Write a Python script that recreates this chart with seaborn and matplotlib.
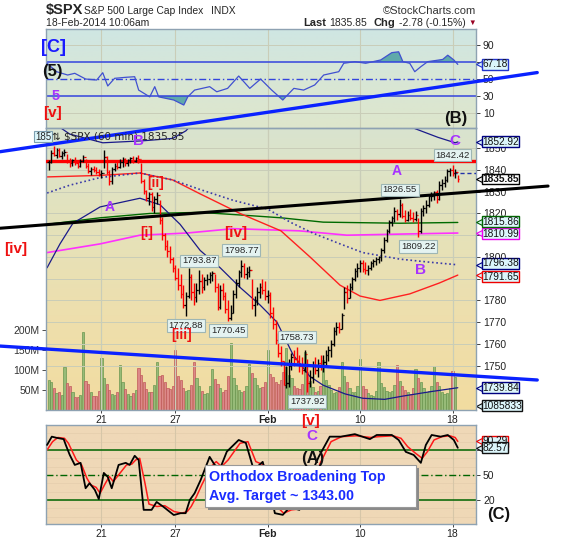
import numpy as np
import matplotlib
matplotlib.use("Agg")
import matplotlib.pyplot as plt
import matplotlib.transforms as mtrans
from matplotlib.patches import Rectangle
import seaborn as sns

# ---------------- data ----------------
day_ticks = [20, 48, 83, 118, 153]
day_labels = ["21", "27", "Feb", "10", "18"]

highs = [1844.5, 1849, 1851, 1850, 1850, 1848.5, 1849.5,
         1847.5, 1845.5, 1845, 1846, 1844.5, 1845, 1847,
         1845, 1843, 1841.5, 1842, 1841.5, 1840.5, 1840,
         1849, 1846.5, 1840, 1841.5, 1843, 1844.5, 1845,
         1846, 1845.5, 1845, 1846, 1846.5, 1846, 1847,
         1843, 1836, 1831, 1830, 1830, 1828, 1830,
         1826, 1818.5, 1811, 1808, 1805, 1800, 1796.5,
         1795, 1792, 1787, 1784, 1795, 1792, 1788,
         1788, 1793.87, 1792, 1791, 1792, 1793, 1793.5,
         1792, 1788, 1787, 1788, 1784, 1780, 1778,
         1785, 1790, 1794, 1798.77, 1797, 1795.5, 1796,
         1790, 1782, 1786, 1788, 1790, 1789, 1785,
         1784, 1777, 1771, 1765, 1759, 1752, 1750,
         1753, 1756, 1757, 1758.73, 1755, 1754, 1757,
         1753, 1748, 1752, 1754, 1753, 1755, 1755,
         1757, 1759, 1762, 1768, 1770, 1770, 1774,
         1786, 1787, 1788, 1791, 1795, 1797, 1798.5,
         1798.5, 1797.5, 1796.5, 1798, 1799, 1800, 1800.5,
         1804, 1809, 1813, 1817, 1819, 1823, 1822,
         1826.55, 1825, 1821.5, 1821, 1822, 1820.5, 1821,
         1818, 1822.5, 1824, 1826, 1829, 1830, 1830.5,
         1831, 1835, 1836, 1837, 1840.5, 1841, 1842.42,
         1840.5, 1837.8]
lows = [1840, 1843, 1846.5, 1845.5, 1846, 1845, 1846.5,
        1843, 1841.5, 1842, 1842.5, 1841, 1841.5, 1843.5,
        1841, 1838.5, 1837.5, 1839, 1838, 1837, 1836.5,
        1841, 1838, 1833, 1833.5, 1839.5, 1840.5, 1841,
        1841.5, 1842, 1842, 1843, 1843, 1843.5, 1843,
        1834, 1829, 1825.5, 1824, 1821, 1820, 1824.5,
        1815, 1808, 1803, 1800, 1797, 1793, 1789.5,
        1785, 1781, 1776.5, 1772.88, 1781, 1780, 1778,
        1779.5, 1783, 1783.5, 1785, 1787, 1788, 1789,
        1784, 1775.5, 1776, 1780, 1774, 1770.45, 1771,
        1774, 1781, 1786, 1791, 1790.5, 1790, 1791,
        1776, 1773, 1778, 1781, 1783, 1780, 1779,
        1772, 1767, 1760, 1754, 1750, 1741, 1739.7,
        1740, 1748, 1750, 1751, 1747, 1746, 1747,
        1737.92, 1740, 1742, 1746, 1745, 1748, 1747,
        1750, 1752, 1754, 1759, 1764, 1765, 1767,
        1776, 1779, 1781, 1785, 1789, 1791, 1793,
        1793, 1792, 1791.8, 1794, 1795.5, 1796.5, 1797,
        1798, 1802, 1807, 1811, 1814, 1816, 1817,
        1818.5, 1818, 1816, 1816.5, 1817, 1816, 1816.5,
        1809.22, 1811, 1819, 1820, 1823, 1825.5, 1826,
        1825, 1826, 1831, 1832, 1834.5, 1837, 1837,
        1836.5, 1834.5]
closes = [1843.5, 1848, 1847, 1849, 1846.5, 1848, 1848.4,
          1844, 1843, 1844.5, 1843, 1842, 1844, 1845.9,
          1842, 1839.5, 1840.5, 1840, 1839, 1838, 1838.7,
          1846, 1839, 1835, 1840.5, 1842, 1841.5, 1843.8,
          1845, 1843, 1844.5, 1845.5, 1844, 1845.5, 1844.9,
          1835, 1830.5, 1827, 1829, 1823, 1826.5, 1828.5,
          1817, 1810, 1805, 1802.5, 1799, 1795, 1790.3,
          1787, 1783, 1778, 1782, 1791, 1784, 1781.5,
          1785, 1789, 1786, 1789.5, 1790, 1791.5, 1792.5,
          1786, 1777, 1785, 1782, 1776, 1772, 1774.2,
          1783, 1788, 1793, 1796, 1792, 1793, 1794.2,
          1778, 1780, 1784, 1786, 1785, 1782, 1782.6,
          1774, 1769, 1762, 1756, 1752, 1741, 1742,
          1750, 1754, 1753, 1752, 1750, 1748, 1755.2,
          1742, 1745, 1750, 1748, 1751, 1750, 1751.6,
          1755, 1757, 1760, 1766, 1768, 1767, 1773.4,
          1784, 1781, 1786, 1790, 1793.5, 1795, 1797,
          1794.5, 1794, 1795, 1797, 1798, 1799, 1799.8,
          1803, 1808, 1812, 1816, 1818, 1821, 1819.8,
          1824, 1819, 1817, 1819.5, 1818, 1817.5, 1819.3,
          1812, 1821, 1822.5, 1824, 1828, 1828, 1829.8,
          1826.5, 1833, 1834, 1835.5, 1839.5, 1840, 1838.6,
          1839.2, 1835.85]
volumes_m = [75, 70, 54, 42, 46, 38, 108,
             67, 60, 46, 33, 33, 37, 196,
             72, 64, 44, 35, 36, 48, 129,
             80, 66, 49, 40, 38, 45, 112,
             70, 52, 40, 35, 42, 50, 104,
             87, 70, 52, 44, 45, 62, 121,
             85, 88, 70, 55, 52, 60, 150,
             84, 74, 56, 48, 50, 62, 121,
             80, 60, 48, 40, 42, 60, 102,
             78, 66, 55, 46, 50, 85, 167,
             80, 62, 50, 44, 48, 60, 115,
             92, 80, 62, 55, 58, 70, 150,
             90, 82, 70, 64, 75, 95, 154,
             88, 80, 60, 55, 52, 65, 146,
             95, 72, 58, 46, 48, 60, 125,
             75, 62, 50, 42, 45, 58, 121,
             86, 70, 55, 45, 44, 60, 127,
             60, 52, 42, 38, 36, 48, 121,
             68, 58, 48, 45, 48, 62, 112,
             72, 60, 50, 44, 40, 55, 102,
             80, 70, 56, 46, 48, 60, 110,
             70, 60, 46, 40, 42, 55, 97,
             83, 1.085833]

# Bollinger bands & moving averages (bar index, price)
bb_up_x = [-1, 4.5, 8, 20.5, 35.6, 47, 52, 58, 80, 100, 120, 132, 138.8, 147.5, 154, 155]
bb_up_y = [1866, 1859.4, 1856.5, 1852.5, 1853.4, 1854.5, 1858, 1866, 1880, 1884, 1872, 1863, 1859, 1855, 1852.5, 1852.92]
bb_mid_x = [-0.6, 8, 19.5, 34.6, 47, 57.4, 70, 83, 91.5, 100, 110.4, 119, 133, 145, 155]
bb_mid_y = [1829.4, 1833, 1836.5, 1838.6, 1835.4, 1831, 1826, 1822, 1816, 1811, 1806, 1802, 1799, 1797.5, 1796.38]
bb_lo_x = [-0.6, 4.3, 9.2, 19.5, 34.6, 42.2, 49.8, 57.4, 65, 72.5, 80, 86.5, 92.6, 99, 104, 112.3, 119, 127.3, 134.2, 144.5, 155]
bb_lo_y = [1795, 1806, 1815.5, 1823, 1827, 1824, 1815, 1803, 1795, 1786, 1778, 1770, 1755, 1745, 1741, 1737, 1735, 1734.5, 1736, 1738, 1739.84]
ma_red_x = [-0.6, 19.5, 34.6, 47, 57.4, 72.5, 88, 99, 110.4, 118, 125.5, 136.8, 148, 155]
ma_red_y = [1836.8, 1837.5, 1838.6, 1835.4, 1829, 1820, 1812, 1800, 1787, 1782, 1780, 1783, 1788, 1791.65]
ma_green_x = [-0.6, 19.5, 38.3, 57.4, 76.2, 88, 104, 133, 155]
ma_green_y = [1815, 1818, 1820, 1820.5, 1819, 1818, 1816, 1815.5, 1815.86]
ma_mag_x = [-0.6, 19.5, 34.6, 52.5, 70, 95, 113, 133, 155]
ma_mag_y = [1802, 1806, 1810, 1811, 1813, 1812, 1810, 1810.5, 1810.99]

# RSI (top panel)
rsi_x = [-0.6, 3.0, 7.2, 9.9, 14.0, 18.2, 20.5, 22.4, 25.0, 29.2, 32.6, 34.1, 38.3, 40.2, 41.7,
         47.4, 51.2, 52.7, 55.3, 61.0, 63.7, 67.8, 72.0, 76.2, 80.3, 84.5, 88.7, 89.8, 92.9,
         96.6, 100.8, 104.2, 109.9, 111.8, 116.0, 120.1, 125.8, 130.0, 132.6, 134.2, 136.8,
         138.7, 141.0, 143.6, 149.3, 151.2, 153.5, 155]
rsi_y = [68.5, 58.6, 54.7, 56.7, 50, 48.8, 57.4, 41.8, 50.8, 52, 52.7, 37, 29, 41, 29,
         25.3, 19.4, 29, 37, 41, 35, 39, 53.5, 39, 50, 37, 25.3, 29, 39,
         37, 43, 54.7, 58.6, 68.5, 70.4, 68.5, 72.4, 81, 82, 70.4, 68.5,
         58.6, 64.5, 70.4, 73, 78, 72.4, 67.18]

# Slow stochastic (bottom panel)
stk_x = [-0.6, 1.2, 3.0, 5.7, 6.5, 8.0, 9.9, 12.1, 14.0, 15.5, 17.5, 19.0, 20.9, 22.4, 23.9,
         26.5, 29.2, 30.7, 32.6, 34.1, 36.0, 39.0, 40.9, 43.6, 47.4, 50.0, 51.9, 53.5, 55.3,
         57.6, 61.0, 62.9, 65, 67.5, 72.0, 74.7, 77.7, 81.1, 84, 85.7, 88.7, 91.3, 95, 98,
         100, 102.3, 106.5, 110.7, 116.0, 121.7, 124.3, 130.0, 132.6, 135.3, 138.3, 141.0,
         142.9, 145.1, 148.5, 151.2, 153.5, 155]
stk_k = [86, 96, 94.6, 93, 86, 74, 62, 64.5, 34, 40, 32, 21, 52.4, 47.6, 34,
         62, 64.5, 62, 73, 68, 8, 8, 17.5, 11.4, 1.8, 4, 4, 20, 28,
         44, 71.7, 62, 58, 78, 92, 88.5, 56, 65.7, 30, 4, 2, 11, 8, 35,
         55, 71.7, 96, 96, 99, 93, 98, 98, 92, 77.7, 74, 64.5,
         86, 98, 96, 98, 92, 82.57]
std_x = [-0.6, 1.5, 3.5, 6.0, 7.5, 9.0, 10.5, 12.5, 14.5, 16, 18, 19.5, 21.5, 23, 24.5,
         27, 29.5, 31.5, 33, 34.5, 36.5, 38, 41, 44, 47.5, 50.5, 52.5, 54, 56, 58, 61.5,
         63.5, 65.5, 68, 72.5, 75.5, 78.5, 81.5, 84.5, 86.5, 89, 92, 95, 98, 100.5, 103,
         107, 111, 116.5, 122, 125, 130.5, 133.5, 136, 139, 141.5, 143.5, 146, 149, 152, 154, 155]
std_d = [80, 90, 95, 94, 88, 78, 68, 62, 46, 38, 35, 28, 40, 48, 42,
         52, 62, 63, 68, 70, 40, 15, 12, 13, 6, 4, 6, 12, 24, 38, 60,
         66, 60, 68, 88, 90, 66, 62, 38, 12, 4, 8, 9, 25, 45, 65,
         90, 96, 97, 95, 96, 97, 94, 84, 76, 70, 78, 92, 96, 97, 95, 90.29]

# trendlines (bar index, price)
tl_blue_up = ([-18.4, 185.1], [1848.4, 1884.8])
tl_blue_lo = ([-18.4, 185.1], [1759.0, 1743.4])
tl_black = ([-18.4, 189.2], [1813.2, 1832.6])
red_level = 1844.3
prev_close = 1838.63

peak_idx = [153, 133, 140, 57, 73, 52, 68, 94, 98]
peak_val = [1842.42, 1826.55, 1809.22, 1793.87, 1798.77, 1772.88, 1770.45, 1758.73, 1737.92]
peak_side = ["hi", "hi", "lo", "hi", "hi", "lo", "lo", "hi", "lo"]

# (text, value, border colour, bold, vertical nudge in points)
price_tags = [("1852.92", 1852.92, "#000080", False, 0),
              ("1791.65", 1791.65, "#ee0000", False, -1.2),
              ("1796.38", 1796.38, "#000080", False, 1.2),
              ("1810.99", 1810.99, "#ee00ee", False, -0.6),
              ("1815.86", 1815.86, "#006400", False, 0.6),
              ("1739.84", 1739.84, "#000080", False, 0),
              ("1835.85", 1835.85, "#000000", True, 0)]
price_ticks = [1750, 1760, 1770, 1780, 1790, 1800, 1810, 1820, 1830, 1840, 1850]
price_tick_labels = ["1750", "1760", "1770", "1780", "", "1800", "", "1820", "1830", "1840", "1850"]
rsi_ticks = [10, 30, 50, 70, 90]
rsi_tick_labels = ["10", "30", "50", "", "90"]
st_ticks = [20, 50, 80]
st_tick_labels = ["20", "50", ""]

# ---------------- figure ----------------
sns.set_theme(style="white")
plt.rcParams['font.family'] = ['Liberation Sans', 'DejaVu Sans']

W_PX, H_PX = 570, 540
fig = plt.figure(figsize=(W_PX / 100, H_PX / 100), dpi=100)
fig.patch.set_facecolor("white")


def fx(px):
    return px / W_PX


def fy(py):
    return 1 - py / H_PX


def rect(x0, y0, x1, y1):
    return [fx(x0), fy(y1), fx(x1) - fx(x0), fy(y0) - fy(y1)]


def panel_bg(r, stops):
    bg = fig.add_axes(r, zorder=-5)
    cols = np.array([matplotlib.colors.to_rgb(c) for c in stops])
    t = np.linspace(0, 1, 80)
    pos = np.linspace(0, 1, len(stops))
    grad = np.stack([np.interp(t, pos, cols[:, k]) for k in range(3)], axis=1)
    bg.imshow(grad[:, None, :], aspect="auto", extent=[0, 1, 0, 1], origin="upper",
              interpolation="bilinear")
    bg.set_axis_off()
    return bg


R_RSI = rect(46, 29, 476, 128)
R_MAIN = rect(46, 128, 476, 410)
R_ST = rect(46, 425, 476, 524)

panel_bg(R_RSI, ["#cfe6e3", "#d8e6d6", "#dee6cc"])
panel_bg(R_MAIN, ["#d9e4cf", "#e4e2bb", "#eedfad", "#f2dca0"])
panel_bg(R_ST, ["#efd8b8", "#efd8b6"])

ax_rsi = fig.add_axes(R_RSI, zorder=1)
ax_vol = fig.add_axes(R_MAIN, zorder=1)
ax = fig.add_axes(R_MAIN, zorder=2)
ax_st = fig.add_axes(R_ST, zorder=1)
for a in (ax_rsi, ax_vol, ax, ax_st):
    a.patch.set_visible(False)

SPINE = "#8ea2b2"
GRID = "#c9cdb8"
XLIM = (-1, 161.9)
bar_x = np.arange(len(closes))
closes_a = np.array(closes)
prev = np.r_[closes_a[0], closes_a[:-1]]
up = closes_a >= prev

# ---- volume ----
vcol = np.where(up, "#97bb78", "#dc8888")
vedge = np.where(up, "#6a9650", "#c05a5a")
ax_vol.bar(bar_x, volumes_m, width=0.85, color=vcol, edgecolor=vedge, linewidth=0.5, zorder=2)
ax_vol.set_ylim(0, 705)
ax_vol.set_xlim(*XLIM)
ax_vol.set_yticks([50, 100, 150, 200])
ax_vol.set_yticklabels(["50M", "100M", "150M", "200M"])
ax_vol.tick_params(axis="y", left=True, right=False, labelleft=True, labelright=False,
                   length=3, width=0.6, colors="#333333", labelsize=7.5, pad=1.5)
ax_vol.tick_params(axis="x", bottom=False, labelbottom=False)
for v in day_ticks:
    ax_vol.axvline(v, color=GRID, lw=0.8, zorder=0)
for s in ax_vol.spines.values():
    s.set_visible(False)

# ---- price panel ----
for p in price_ticks:
    ax.axhline(p, color=GRID, lw=0.7, zorder=0)

sns.lineplot(x=ma_green_x, y=ma_green_y, ax=ax, color="#006a00", lw=1.0, estimator=None, sort=False)
sns.lineplot(x=ma_mag_x, y=ma_mag_y, ax=ax, color="#ff30ff", lw=1.2, estimator=None, sort=False)
sns.lineplot(x=ma_red_x, y=ma_red_y, ax=ax, color="#ff2020", lw=1.0, estimator=None, sort=False)
sns.lineplot(x=bb_mid_x, y=bb_mid_y, ax=ax, color="#3a3aa8", lw=1.2, estimator=None, sort=False,
             linestyle=(0, (1, 1.6)))
sns.lineplot(x=bb_up_x, y=bb_up_y, ax=ax, color="#1a1a8a", lw=0.9, estimator=None, sort=False)
sns.lineplot(x=bb_lo_x, y=bb_lo_y, ax=ax, color="#1a1a8a", lw=0.9, estimator=None, sort=False)

ax.axhline(red_level, color="#ff0000", lw=2.4, zorder=3)
ax.plot([153, XLIM[1]], [prev_close, prev_close], color="#2233aa", lw=1, ls=(0, (3, 2)), zorder=3)

pcol = np.where(up, "#000000", "#ff0000")
ax.vlines(bar_x, lows, highs, colors=pcol, lw=1.0, zorder=5)
ax.hlines(closes_a, bar_x, bar_x + 0.55, colors=pcol, lw=0.9, zorder=5)
ax.hlines(prev, bar_x - 0.55, bar_x, colors=pcol, lw=0.9, zorder=5)

ax.plot(*tl_black, color="#000000", lw=2.2, clip_on=False, zorder=6)
ax.plot(*tl_blue_up, color="#0a22ff", lw=2.4, clip_on=False, zorder=6)
ax.plot(*tl_blue_lo, color="#0a22ff", lw=2.4, clip_on=False, zorder=6)

ax.set_xlim(*XLIM)
ax.set_ylim(1729.6, 1859.3)
ax.set_yticks(price_ticks)
ax.set_yticklabels(price_tick_labels)
ax.yaxis.tick_right()
ax.tick_params(axis="y", right=True, left=False, length=3, width=0.6, colors="#222222",
               labelsize=7.5, pad=2)
ax.set_xticks(day_ticks)
ax.set_xticklabels(day_labels)
ax.tick_params(axis="x", bottom=True, length=2, width=0.6, colors="#222222", labelsize=7.5, pad=1.5)
ax.get_xticklabels()[2].set_fontweight("bold")
for v in day_ticks:
    ax.axvline(v, color=GRID, lw=0.8, zorder=0)
for s in ax.spines.values():
    s.set_color(SPINE)
    s.set_linewidth(1)
ax.set_xlabel("")
ax.set_ylabel("")
ax_vol.set_ylabel("")

for i_, v_, side in zip(peak_idx, peak_val, peak_side):
    off = 3.6 if side == "hi" else -3.6
    ax.annotate(f"{v_:.2f}", xy=(i_, v_), xytext=(0, off), textcoords="offset points",
                ha="center", va="bottom" if side == "hi" else "top", fontsize=6.8,
                bbox=dict(boxstyle="square,pad=0.18", fc="#e4f3f1", ec="#9eb6b4", lw=0.8),
                zorder=8)


def value_tag(axis, yval, text, ec, fc="#dcf6fb", bold=False, nudge=0.0):
    tr = mtrans.blended_transform_factory(axis.transAxes, axis.transData)
    axis.annotate(text, xy=(1.014, yval), xycoords=tr, xytext=(0, nudge), textcoords="offset points",
                  ha="left", va="center", fontsize=7.3,
                  fontweight="bold" if bold else "normal", color="#111111",
                  bbox=dict(boxstyle="square,pad=0.04", fc=fc, ec=ec, lw=1.0),
                  annotation_clip=False, zorder=12)
    axis.plot([1.006], [yval], marker="<", ms=4.0, mfc=fc, mec=ec, mew=0.8, transform=tr,
              clip_on=False, zorder=11)


for txt, val, ec, bold, nudge in price_tags:
    value_tag(ax, val, txt, ec, fc="white" if bold else "#dcf6fb", bold=bold, nudge=nudge)
value_tag(ax_vol, 11, "1085833", "#111111")

# ---- RSI panel ----
for v in (10, 90):
    ax_rsi.axhline(v, color=GRID, lw=0.7, zorder=0)
for v in day_ticks:
    ax_rsi.axvline(v, color=GRID, lw=0.8, zorder=0)
rx = np.array(rsi_x)
ry = np.array(rsi_y)
ax_rsi.fill_between(rx, ry, 70, where=ry >= 70, interpolate=True, color="#5fa9ab", lw=0, zorder=1)
ax_rsi.fill_between(rx, ry, 30, where=ry <= 30, interpolate=True, color="#5fa9ab", lw=0, zorder=1)
ax_rsi.axhline(70, color="#3344dd", lw=1.1, zorder=2)
ax_rsi.axhline(30, color="#3344dd", lw=1.1, zorder=2)
ax_rsi.axhline(50, color="#3344dd", lw=1.0, ls=(0, (5, 2, 1, 2)), zorder=2)
sns.lineplot(x=rx, y=ry, ax=ax_rsi, color="#4050d0", lw=0.9, estimator=None, sort=False, zorder=3)
ax_rsi.set_xlim(*XLIM)
ax_rsi.set_ylim(-7.6, 108.8)
ax_rsi.set_yticks(rsi_ticks)
ax_rsi.set_yticklabels(rsi_tick_labels)
ax_rsi.yaxis.tick_right()
ax_rsi.tick_params(axis="y", right=True, left=False, length=3, width=0.6, colors="#222222",
                   labelsize=7.5, pad=2)
ax_rsi.tick_params(axis="x", bottom=False, labelbottom=False)
ax_rsi.set_xlabel("")
ax_rsi.set_ylabel("")
for s in ax_rsi.spines.values():
    s.set_color(SPINE)
    s.set_linewidth(1)
value_tag(ax_rsi, 67.18, "67.18", "#2233cc")

# ---- Stochastic panel ----
for v in range(0, 110, 10):
    ax_st.axhline(v, color="#e6cfae", lw=0.6, zorder=0)
for v in day_ticks:
    ax_st.axvline(v, color="#d6c6a8", lw=0.8, zorder=0)
ax_st.axhline(80, color="#006400", lw=1.1, zorder=1)
ax_st.axhline(20, color="#006400", lw=1.1, zorder=1)
ax_st.axhline(50, color="#006400", lw=1.0, ls=(0, (5, 2, 1, 2)), zorder=1)
sns.lineplot(x=std_x, y=std_d, ax=ax_st, color="#ff1a1a", lw=1.1, estimator=None, sort=False, zorder=2)
sns.lineplot(x=stk_x, y=stk_k, ax=ax_st, color="#000000", lw=1.3, estimator=None, sort=False, zorder=3)
ax_st.set_xlim(*XLIM)
ax_st.set_ylim(-9, 110)
ax_st.set_yticks(st_ticks)
ax_st.set_yticklabels(st_tick_labels)
ax_st.yaxis.tick_right()
ax_st.tick_params(axis="y", right=True, left=False, length=3, width=0.6, colors="#222222",
                  labelsize=7.5, pad=2)
ax_st.set_xticks(day_ticks)
ax_st.set_xticklabels(day_labels)
ax_st.tick_params(axis="x", bottom=True, length=2, width=0.6, colors="#222222", labelsize=7.5, pad=1.5)
ax_st.get_xticklabels()[2].set_fontweight("bold")
ax_st.set_xlabel("")
ax_st.set_ylabel("")
for s in ax_st.spines.values():
    s.set_color(SPINE)
    s.set_linewidth(1)
value_tag(ax_st, 90.29, "90.29", "#ee0000")
value_tag(ax_st, 82.57, "82.57", "#111111")

# ---- annotation box ----
fig.add_artist(Rectangle((fx(208), fy(510)), fx(211), fy(465) - fy(507), transform=fig.transFigure,
                         fc="#8a8a8a", ec="none", zorder=6))
fig.add_artist(Rectangle((fx(205), fy(507)), fx(211), fy(465) - fy(507), transform=fig.transFigure,
                         fc="white", ec="#999999", lw=0.8, zorder=7))
fig.text(fx(209), fy(477.5), "Orthodox Broadening Top", fontsize=10.3, fontweight="bold",
         color="#1a2cff", va="center", ha="left", zorder=8)
fig.text(fx(209), fy(496), "Avg. Target ~ 1343.00", fontsize=10.3, fontweight="bold",
         color="#1a2cff", va="center", ha="left", zorder=8)

# ---- header ----
fig.text(fx(46), fy(10), "$SPX", fontsize=10.5, fontweight="bold", va="center", ha="left")
fig.text(fx(84), fy(10.5), "S&P 500 Large Cap Index", fontsize=7.4, va="center", ha="left")
fig.text(fx(211), fy(10.5), "INDX", fontsize=7.4, va="center", ha="left")
fig.text(fx(476), fy(10.5), "\u00a9StockCharts.com", fontsize=8, va="center", ha="right", color="#333333")
fig.text(fx(46), fy(23.5), "18-Feb-2014 10:06am", fontsize=7.5, va="center", ha="left")
fig.text(fx(303), fy(23.5), "Last", fontsize=8, fontweight="bold", va="center", ha="left")
fig.text(fx(329), fy(23.5), "1835.85", fontsize=7.5, va="center", ha="left")
fig.text(fx(374), fy(23.5), "Chg", fontsize=8, fontweight="bold", va="center", ha="left")
fig.text(fx(399), fy(23.5), "-2.78 (-0.15%)", fontsize=7.5, va="center", ha="left")
fig.text(fx(472), fy(23.5), "\u25bc", fontsize=5.5, color="#990022", va="center", ha="center")

# legend line inside price panel
fig.text(fx(35), fy(136.5), "185", fontsize=7, va="center", ha="left",
         bbox=dict(boxstyle="square,pad=0.1", fc="#dcf6fb", ec="#7d9fb0", lw=0.8), zorder=9)
fig.text(fx(52), fy(136.5), "\u21c5 $SPX (60 min) 1835.85", fontsize=7.5, va="center", ha="left",
         family=["DejaVu Sans"], zorder=9)

# ---- wave labels ----
PURP = "#a733ff"
RED = "#ee1111"
labels = [
    ("[C]", 53, 48, 13, "#1a1aff"), ("(5)", 52, 71.5, 12, "#111111"), ("5", 56, 96, 10.5, PURP),
    ("[v]", 53, 113, 11, RED), ("(B)", 456, 118, 12, "#111111"), ("C", 455, 141, 11, PURP),
    ("B", 139, 141, 11, PURP), ("[ii]", 156, 183.5, 10, RED), ("A", 110, 207, 10, PURP),
    ("[i]", 147, 233.5, 10, RED), ("[iv]", 16, 249.5, 11, RED), ("[iv]", 236, 233.5, 11, RED),
    ("[iii]", 182, 334.5, 10, RED), ("A", 397, 171, 10, PURP), ("B", 421, 270, 11, PURP),
    ("[v]", 311, 421.5, 11, RED), ("C", 312, 436.5, 11, PURP), ("(A)", 313, 459, 12, "#111111"),
    ("(C)", 499, 514, 12, "#111111"),
]
for t, x_, y_, fs, c in labels:
    fig.text(fx(x_), fy(y_), t, fontsize=fs, fontweight="bold", color=c, ha="center", va="center",
             zorder=10)

fig.savefig("out.png", dpi=100)
